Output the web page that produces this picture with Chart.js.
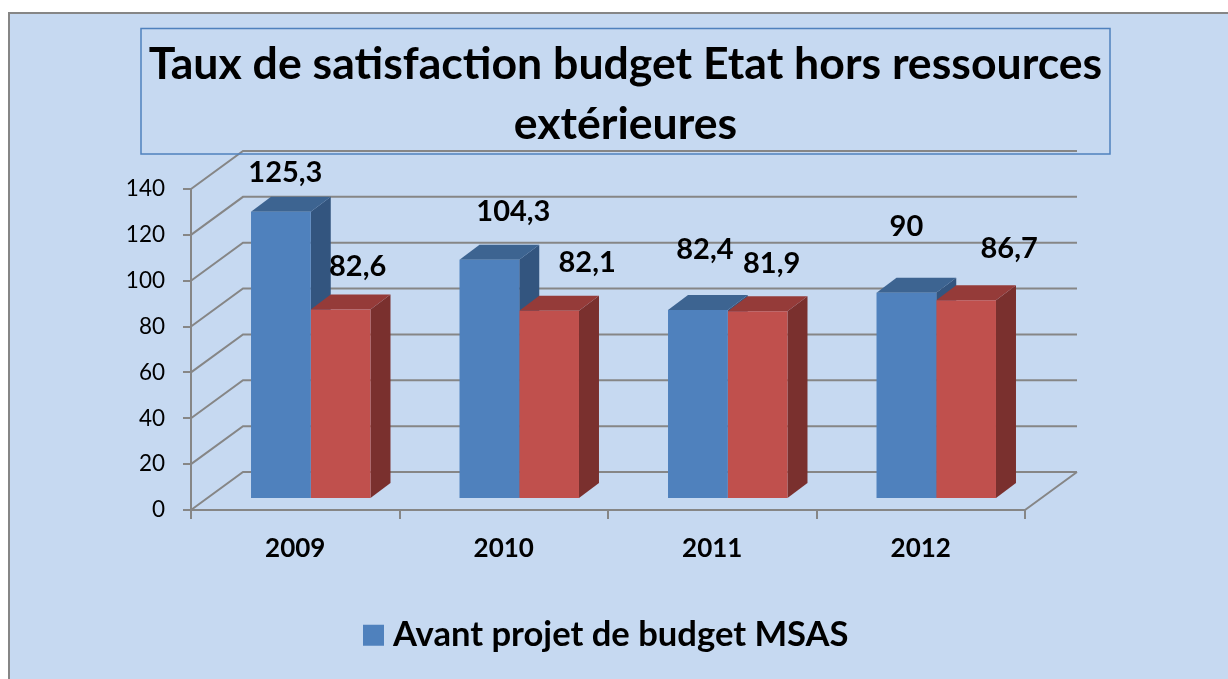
<!DOCTYPE html>
<html>
<head>
<meta charset="utf-8">
<style>html,body{margin:0;padding:0;background:#fff}canvas{display:block}</style>
<script src="https://cdn.jsdelivr.net/npm/chart.js@4"></script>
</head>
<body>
<div style="width:1228px;height:679px"><canvas id="c" width="1228" height="679"></canvas></div>
<script>
const categories = ['2009', '2010', '2011', '2012'];
const avantProjet = [125.3, 104.3, 82.4, 90];
const budgetEtat = [82.6, 82.1, 81.9, 86.7];
const yTickStep = 20;
const yMax = 140;
const titleLines = ['Taux de satisfaction budget Etat hors ressources', 'extérieures'];
const legendLabel = 'Avant projet de budget MSAS';

/* label nudges relative to each bar's top centre, one list per series */
const labelNudgeBlue = [[4.5, -39], [24, -48], [7, -60], [0, -66]];
const labelNudgeRed = [[17, -43], [38, -48], [14, -48], [43, -52]];

const FONT = 'Lato, Carlito, Calibri, sans-serif';
const GREY = '#868686';
const WALL = {dx: 52, dy: -38};
const BAR_SHIFT = {dx: 15.5, dy: -11};
const BAR_DEPTH = {dx: 20, dy: -15};
const FACES = [{top: '#3D6491', side: '#33557F'}, {top: '#953B39', side: '#7A302E'}];

function poly(ctx, pts, color) {
  ctx.fillStyle = color;
  ctx.beginPath();
  pts.forEach((p, i) => i ? ctx.lineTo(p[0], p[1]) : ctx.moveTo(p[0], p[1]));
  ctx.closePath();
  ctx.fill();
}

const scene3d = {
  id: 'scene3d',
  beforeDraw(chart) {
    const ctx = chart.ctx;
    ctx.save();
    ctx.fillStyle = '#fff';
    ctx.fillRect(0, 0, chart.width, chart.height);
    ctx.fillStyle = '#C6D9F1';
    ctx.fillRect(9, 13, chart.width - 9, chart.height - 13);
    ctx.strokeStyle = GREY;
    ctx.lineWidth = 2;
    ctx.beginPath();
    ctx.moveTo(9, chart.height);
    ctx.lineTo(9, 13);
    ctx.lineTo(chart.width, 13);
    ctx.stroke();
    ctx.restore();
  },
  afterLayout(chart) {
    const t = chart.titleBlock;
    t.left = 141; t.right = 1110; t.width = 969;
    const l = chart.legend;
    l.left = 361.3; l.right = 1228; l.top = 608; l.bottom = 665;
  },
  beforeDatasetsDraw(chart) {
    const ctx = chart.ctx;
    const {x, y} = chart.scales;
    const a = chart.chartArea;
    ctx.save();
    ctx.strokeStyle = GREY;
    ctx.lineWidth = 2;
    ctx.beginPath();
    y.ticks.forEach(t => {
      const py = y.getPixelForValue(t.value);
      ctx.moveTo(a.left, py);
      ctx.lineTo(a.left + WALL.dx, py + WALL.dy);
      ctx.lineTo(a.right + WALL.dx, py + WALL.dy);
    });
    ctx.moveTo(a.right, a.bottom);
    ctx.lineTo(a.right + WALL.dx, a.bottom + WALL.dy);
    ctx.stroke();
    ctx.restore();

    ctx.save();
    ctx.translate(BAR_SHIFT.dx, BAR_SHIFT.dy);
    categories.forEach((_, i) => {
      [0, 1].forEach(ds => {
        const bar = chart.getDatasetMeta(ds).data[i];
        const l = bar.x - bar.width / 2, r = bar.x + bar.width / 2;
        const tp = bar.y, bt = bar.base;
        const d = BAR_DEPTH;
        poly(ctx, [[r, tp], [r + d.dx, tp + d.dy], [r + d.dx, bt + d.dy], [r, bt]], FACES[ds].side);
        poly(ctx, [[l, tp], [r, tp], [r + d.dx, tp + d.dy], [l + d.dx, tp + d.dy]], FACES[ds].top);
      });
    });
  },
  afterDatasetsDraw(chart) {
    const ctx = chart.ctx;
    ctx.restore();
    ctx.save();
    ctx.fillStyle = '#000';
    ctx.font = 'bold 29px ' + FONT;
    ctx.textAlign = 'center';
    ctx.textBaseline = 'middle';
    [[avantProjet, labelNudgeBlue], [budgetEtat, labelNudgeRed]].forEach((pair, ds) => {
      chart.getDatasetMeta(ds).data.forEach((bar, i) => {
        const text = String(pair[0][i]).replace('.', ',');
        ctx.fillText(text, bar.x + BAR_SHIFT.dx + pair[1][i][0], bar.y + BAR_SHIFT.dy + pair[1][i][1]);
      });
    });
    ctx.restore();
    ctx.save();
    ctx.strokeStyle = '#4F81BD';
    ctx.lineWidth = 1.5;
    const t = chart.titleBlock;
    ctx.strokeRect(t.left, 28.5, t.right - t.left, 125.5);
    ctx.restore();
  }
};

new Chart(document.getElementById('c'), {
  type: 'bar',
  data: {
    labels: categories,
    datasets: [
      {label: legendLabel, data: avantProjet, backgroundColor: '#4F81BD', clip: false,
       categoryPercentage: 0.573, barPercentage: 1},
      {label: 'Budget Etat', data: budgetEtat, backgroundColor: '#C0504D', clip: false,
       categoryPercentage: 0.573, barPercentage: 1}
    ]
  },
  plugins: [scene3d],
  options: {
    responsive: false,
    animation: false,
    layout: {padding: {left: 0, right: 203, top: 0, bottom: 0}},
    plugins: {
      tooltip: {enabled: false},
      title: {
        display: true,
        text: titleLines,
        color: '#000',
        font: {family: FONT, size: 44.6, weight: 'bold', lineHeight: 1.334},
        padding: {top: 35, bottom: 35}
      },
      legend: {
        position: 'bottom',
        align: 'start',
        labels: {
          filter: item => item.datasetIndex === 0,
          usePointStyle: true,
          pointStyle: 'rect',
          boxWidth: 4.4,
          boxHeight: 21,
          color: '#000',
          font: {family: FONT, size: 34.6, weight: 'bold'}
        }
      }
    },
    scales: {
      x: {
        afterFit(s) { s.height = 114.4; },
        grid: {drawOnChartArea: false, drawTicks: true, tickLength: 9, color: GREY, lineWidth: 2},
        border: {display: true, color: GREY, width: 2},
        ticks: {color: '#000', font: {family: FONT, size: 26, weight: 'bold'}, padding: 14, maxRotation: 0}
      },
      y: {
        min: 0,
        max: yMax,
        afterFit(s) { s.width = 191; },
        grid: {drawOnChartArea: false, drawTicks: true, tickLength: 8, color: GREY, lineWidth: 2},
        border: {display: true, color: GREY, width: 2},
        ticks: {stepSize: yTickStep, color: '#000', font: {family: FONT, size: 22.5}, padding: 18}
      }
    }
  }
});
</script>
</body>
</html>
